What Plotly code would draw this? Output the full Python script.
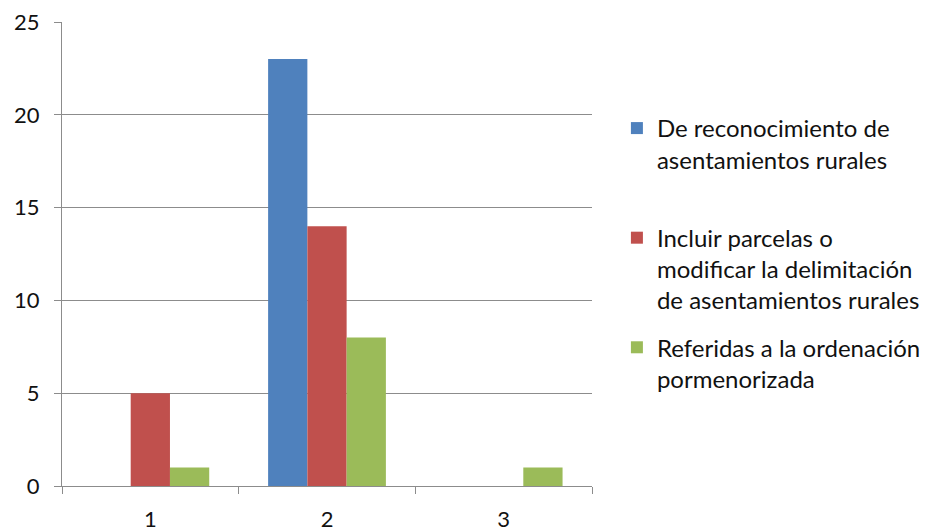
import plotly.graph_objects as go

categories = ["1", "2", "3"]
reconocimiento = [0, 23, 0]
incluir_parcelas = [5, 14, 0]
ordenacion = [1, 8, 1]

series_names = [
    "De reconocimiento de<br>asentamientos rurales<br> ",
    "Incluir parcelas o<br>modificar la delimitación<br>de asentamientos rurales",
    "Referidas a la ordenación<br>pormenorizada",
]
series_values = [reconocimiento, incluir_parcelas, ordenacion]
series_colors = ["#4F81BD", "#C0504D", "#9BBB59"]

fig = go.Figure()
for i, (name, vals, col) in enumerate(zip(series_names, series_values, series_colors)):
    fig.add_trace(go.Bar(
        x=categories, y=vals, name=name, marker_color=col,
        marker_line_width=0, legendgroup=f"g{i}",
    ))

font_family = "Lato, 'Open Sans', sans-serif"
fig.update_layout(
    width=929, height=532,
    margin=dict(l=62, r=337, t=22, b=46, autoexpand=False),
    paper_bgcolor="white", plot_bgcolor="white",
    barmode="group", bargap=1.5 / 4.5, bargroupgap=0,
    font=dict(family=font_family, size=22, color="#111111"),
    showlegend=True,
    legend=dict(
        x=1.047, xanchor="left", xref="paper",
        y=0.819, yanchor="top",
        valign="top", tracegroupgap=13,
        font=dict(size=24, color="#111111"),
        bgcolor="rgba(0,0,0,0)",
    ),
    xaxis=dict(
        type="category", showgrid=False, showline=True,
        linecolor="#8C8C8C", linewidth=1,
        ticks="outside", tickson="boundaries", ticklen=7, tickcolor="#8C8C8C",
        tickfont=dict(size=22), ticklabelstandoff=14,
    ),
    yaxis=dict(
        range=[0, 25], dtick=5, showgrid=True, gridcolor="#8C8C8C", gridwidth=1,
        showline=True, linecolor="#8C8C8C", linewidth=1,
        ticks="outside", ticklen=7, tickcolor="#8C8C8C",
        tickfont=dict(size=22), zeroline=False, ticklabelstandoff=10,
    ),
)

fig.write_html("out.html")
